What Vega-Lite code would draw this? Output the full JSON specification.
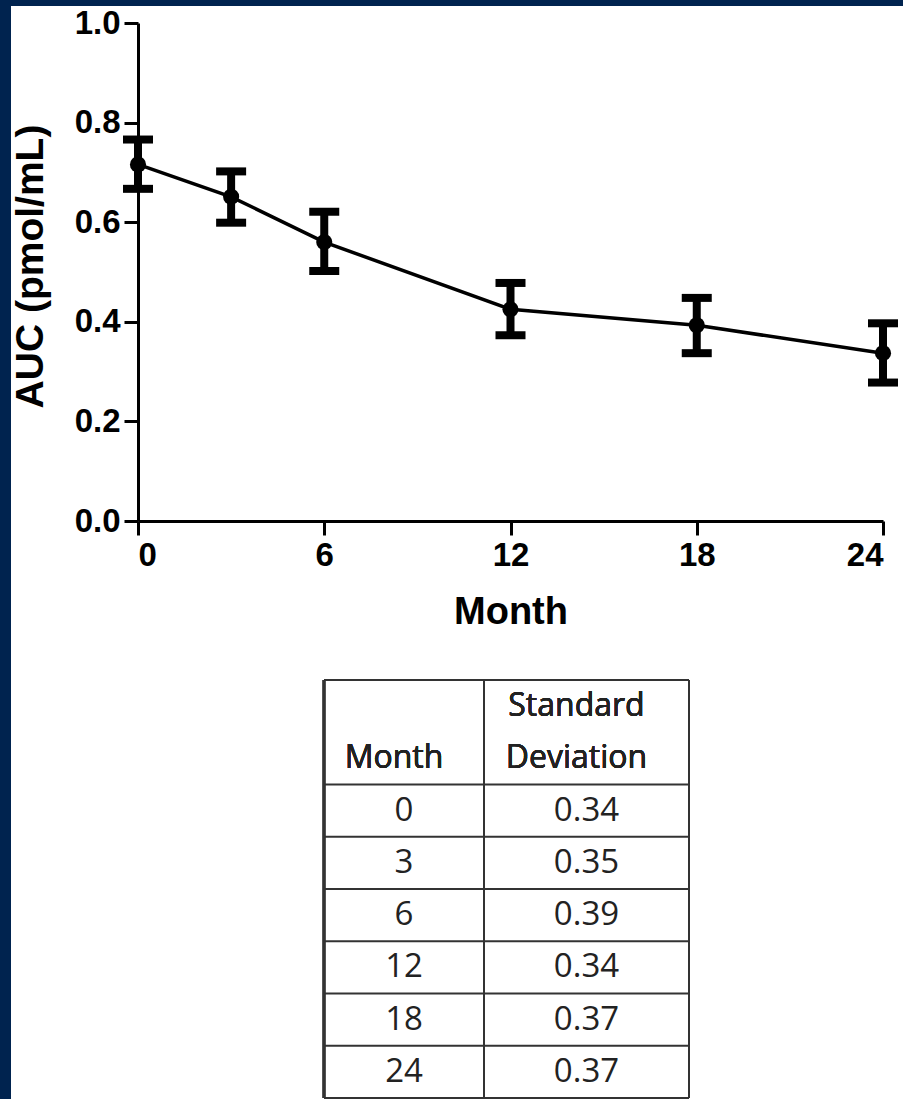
{
  "$schema": "https://vega.github.io/schema/vega-lite/v6.json",
  "width": 892,
  "height": 1093,
  "autosize": "none",
  "padding": {"left": 11, "top": 6, "right": 0, "bottom": 0},
  "background": "#00234f",
  "config": {
    "view": {"stroke": null, "fill": "white"},
    "axis": {
      "grid": false,
      "labelFont": "Liberation Sans",
      "labelFontWeight": "bold",
      "labelFontSize": 33,
      "labelColor": "black",
      "labelPadding": 4,
      "titleFont": "Liberation Sans",
      "titleFontWeight": "bold",
      "titleColor": "black",
      "domainColor": "black",
      "domainWidth": 3,
      "tickColor": "black",
      "tickWidth": 3,
      "tickSize": 14
    }
  },
  "datasets": {
    "auc": [
      {"Month": 0, "AUC": 0.716, "lo": 0.667, "hi": 0.766},
      {"Month": 3, "AUC": 0.651, "lo": 0.599, "hi": 0.702},
      {"Month": 6, "AUC": 0.560, "lo": 0.502, "hi": 0.621},
      {"Month": 12, "AUC": 0.425, "lo": 0.373, "hi": 0.478},
      {"Month": 18, "AUC": 0.393, "lo": 0.337, "hi": 0.448},
      {"Month": 24, "AUC": 0.337, "lo": 0.278, "hi": 0.397}
    ],
    "sd": [
      {"Month": 0, "SD": 0.34, "idx": 0},
      {"Month": 3, "SD": 0.35, "idx": 1},
      {"Month": 6, "SD": 0.39, "idx": 2},
      {"Month": 12, "SD": 0.34, "idx": 3},
      {"Month": 18, "SD": 0.37, "idx": 4},
      {"Month": 24, "SD": 0.37, "idx": 5}
    ]
  },
  "layer": [
    {
      "data": {"name": "auc"},
      "encoding": {
        "x": {
          "field": "Month",
          "type": "quantitative",
          "scale": {"domain": [0, 24], "range": [127, 872], "nice": false, "zero": false},
          "axis": {"values": [0, 6, 12, 18, 24], "title": "Month", "titleFontSize": 38, "titlePadding": 21, "offset": -578}
        }
      },
      "layer": [
        {
          "mark": {"type": "line", "color": "black", "strokeWidth": 3.5},
          "encoding": {
            "y": {
              "field": "AUC",
              "type": "quantitative",
              "scale": {"domain": [0, 1], "range": [515, 17], "nice": false},
              "axis": {"values": [0, 0.2, 0.4, 0.6, 0.8, 1], "format": ".1f", "title": "AUC (pmol/mL)", "titleFontSize": 39, "titlePadding": 24, "titleY": 260, "offset": -127}
            }
          }
        },
        {
          "mark": {"type": "rule", "color": "black", "strokeWidth": 8},
          "encoding": {
            "y": {"field": "lo", "type": "quantitative", "title": "AUC (pmol/mL)"},
            "y2": {"field": "hi"}
          }
        },
        {
          "mark": {"type": "tick", "color": "black", "orient": "horizontal", "size": 30, "thickness": 8, "opacity": 1},
          "encoding": {"y": {"field": "lo", "type": "quantitative", "title": "AUC (pmol/mL)"}}
        },
        {
          "mark": {"type": "tick", "color": "black", "orient": "horizontal", "size": 30, "thickness": 8, "opacity": 1},
          "encoding": {"y": {"field": "hi", "type": "quantitative", "title": "AUC (pmol/mL)"}}
        },
        {
          "mark": {"type": "point", "filled": true, "color": "black", "size": 260, "opacity": 1},
          "encoding": {"y": {"field": "AUC", "type": "quantitative", "title": "AUC (pmol/mL)"}}
        }
      ]
    },
    {
      "data": {"name": "sd"},
      "layer": [
        {
          "mark": {"type": "rule", "color": "#333333", "strokeWidth": 2},
          "encoding": {
            "x": {"datum": -0.5, "type": "quantitative", "scale": {"domain": [-0.5, 0.5, 1.5], "range": [313, 473, 678], "nice": false, "zero": false}, "axis": null},
            "x2": {"datum": 1.5},
            "y": {"field": "idx", "type": "quantitative", "scale": {"domain": [-2, 6], "range": [674, 1092], "nice": false, "zero": false}, "axis": null}
          }
        },
        {
          "mark": {"type": "rule", "color": "#333333", "strokeWidth": 2},
          "encoding": {
            "x": {"datum": -0.5, "type": "quantitative", "axis": null},
            "x2": {"datum": 1.5},
            "y": {"datum": -2, "type": "quantitative", "axis": null}
          }
        },
        {
          "mark": {"type": "rule", "color": "#333333", "strokeWidth": 2},
          "encoding": {
            "x": {"datum": -0.5, "type": "quantitative", "axis": null},
            "x2": {"datum": 1.5},
            "y": {"datum": 6, "type": "quantitative", "axis": null}
          }
        },
        {
          "mark": {"type": "rule", "color": "#333333", "strokeWidth": 2.5},
          "encoding": {
            "x": {"datum": -0.5, "type": "quantitative", "axis": null},
            "y": {"datum": -2, "type": "quantitative", "axis": null},
            "y2": {"datum": 6}
          }
        },
        {
          "mark": {"type": "rule", "color": "#333333", "strokeWidth": 2},
          "encoding": {
            "x": {"datum": 0.5, "type": "quantitative", "axis": null},
            "y": {"datum": -2, "type": "quantitative", "axis": null},
            "y2": {"datum": 6}
          }
        },
        {
          "mark": {"type": "rule", "color": "#333333", "strokeWidth": 2},
          "encoding": {
            "x": {"datum": 1.5, "type": "quantitative", "axis": null},
            "y": {"datum": -2, "type": "quantitative", "axis": null},
            "y2": {"datum": 6}
          }
        },
        {
          "mark": {"type": "text", "font": "Open Sans", "fontSize": 33, "color": "#222222", "baseline": "middle", "align": "center", "yOffset": 26},
          "encoding": {
            "x": {"datum": 0, "type": "quantitative", "axis": null},
            "y": {"field": "idx", "type": "quantitative", "axis": null},
            "text": {"field": "Month", "type": "nominal"}
          }
        },
        {
          "mark": {"type": "text", "font": "Open Sans", "fontSize": 33, "color": "#222222", "baseline": "middle", "align": "center", "yOffset": 26},
          "encoding": {
            "x": {"datum": 1, "type": "quantitative", "axis": null},
            "y": {"field": "idx", "type": "quantitative", "axis": null},
            "text": {"field": "SD", "type": "quantitative", "format": ".2f"}
          }
        },
        {
          "mark": {"type": "text", "font": "Open Sans", "fontSize": 32, "color": "#222222", "baseline": "middle", "align": "center", "dx": -10, "text": "Month"},
          "encoding": {
            "x": {"datum": 0, "type": "quantitative", "axis": null},
            "y": {"datum": -0.5, "type": "quantitative", "axis": null}
          }
        },
        {
          "mark": {"type": "text", "font": "Open Sans", "fontSize": 32, "color": "#222222", "baseline": "middle", "align": "center", "dx": -10, "text": "Standard"},
          "encoding": {
            "x": {"datum": 1, "type": "quantitative", "axis": null},
            "y": {"datum": -1.5, "type": "quantitative", "axis": null}
          }
        },
        {
          "mark": {"type": "text", "font": "Open Sans", "fontSize": 32, "color": "#222222", "baseline": "middle", "align": "center", "dx": -10, "text": "Deviation"},
          "encoding": {
            "x": {"datum": 1, "type": "quantitative", "axis": null},
            "y": {"datum": -0.5, "type": "quantitative", "axis": null}
          }
        }
      ]
    }
  ],
  "resolve": {
    "scale": {"x": "independent", "y": "independent"},
    "axis": {"x": "independent", "y": "independent"}
  }
}
